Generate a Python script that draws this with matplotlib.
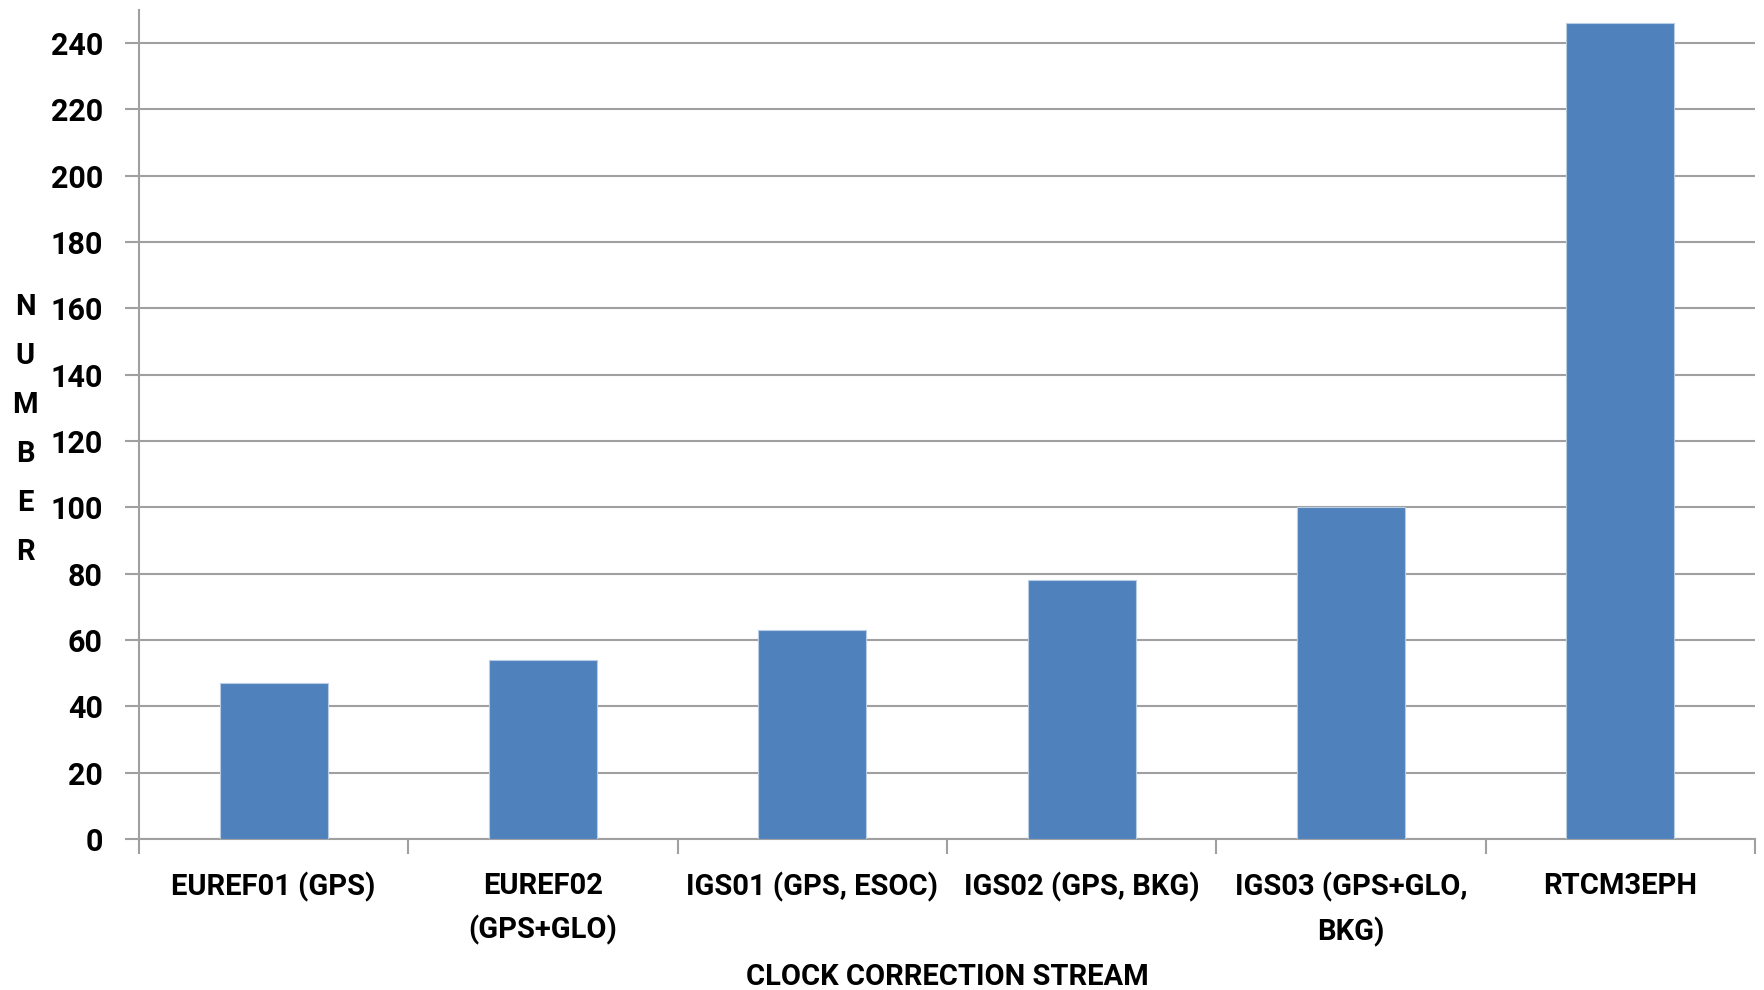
import matplotlib
matplotlib.use("Agg")
import matplotlib.pyplot as plt
import numpy as np

# Clock correction streams and the counts for each
streams = ["EUREF01 (GPS)", "EUREF02\n(GPS+GLO)", "IGS01 (GPS, ESOC)",
           "IGS02 (GPS, BKG)", "IGS03 (GPS+GLO,\nBKG)", "RTCM3EPH"]
counts = [47, 54, 63, 78, 100, 246]
y_ticks = list(range(0, 241, 20))

FONT = ["Roboto", "DejaVu Sans"]
BAR = "#4F81BD"
GRID = "#a0a0a0"

plt.rcParams["font.family"] = FONT
plt.rcParams["font.weight"] = "bold"

fig = plt.figure(figsize=(17.64, 9.9), dpi=100)
ax = fig.add_axes([0.0788, 0.1525, 0.9161, 0.8374])

x = np.arange(len(streams))
ax.bar(x, counts, width=0.4, color=BAR, edgecolor="#b9cde5", linewidth=0.8, zorder=3)

ax.set_xlim(-0.5, len(streams) - 0.5)
ax.set_ylim(0, 250)
ax.set_yticks(y_ticks)
ax.set_yticklabels([str(v) for v in y_ticks], fontsize=22, fontweight="bold")

# category labels sit between boundary tick marks
ax.set_xticks(x)
ax.set_xticklabels(streams, fontsize=21, fontweight="bold", linespacing=1.6)
ax.set_xticks(np.arange(-0.5, len(streams)), minor=True)
ax.tick_params(axis="x", which="major", length=0, pad=24)
ax.tick_params(axis="x", which="minor", length=11, width=1.5, color=GRID)
ax.tick_params(axis="y", length=10, width=1.5, color=GRID, pad=16)

ax.yaxis.grid(True, color=GRID, linewidth=1.5, zorder=0)
ax.set_axisbelow(True)

for s in ["top", "right"]:
    ax.spines[s].set_visible(False)
for s in ["left", "bottom"]:
    ax.spines[s].set_color(GRID)
    ax.spines[s].set_linewidth(1.5)

ax.set_xlabel("CLOCK CORRECTION STREAM", fontsize=21, fontweight="bold", labelpad=12)

fig.text(0.0142, 0.566, "\n".join("NUMBER"), fontsize=21, fontweight="bold",
         ha="center", va="center", linespacing=1.95)

fig.savefig("out.png", dpi=100)
